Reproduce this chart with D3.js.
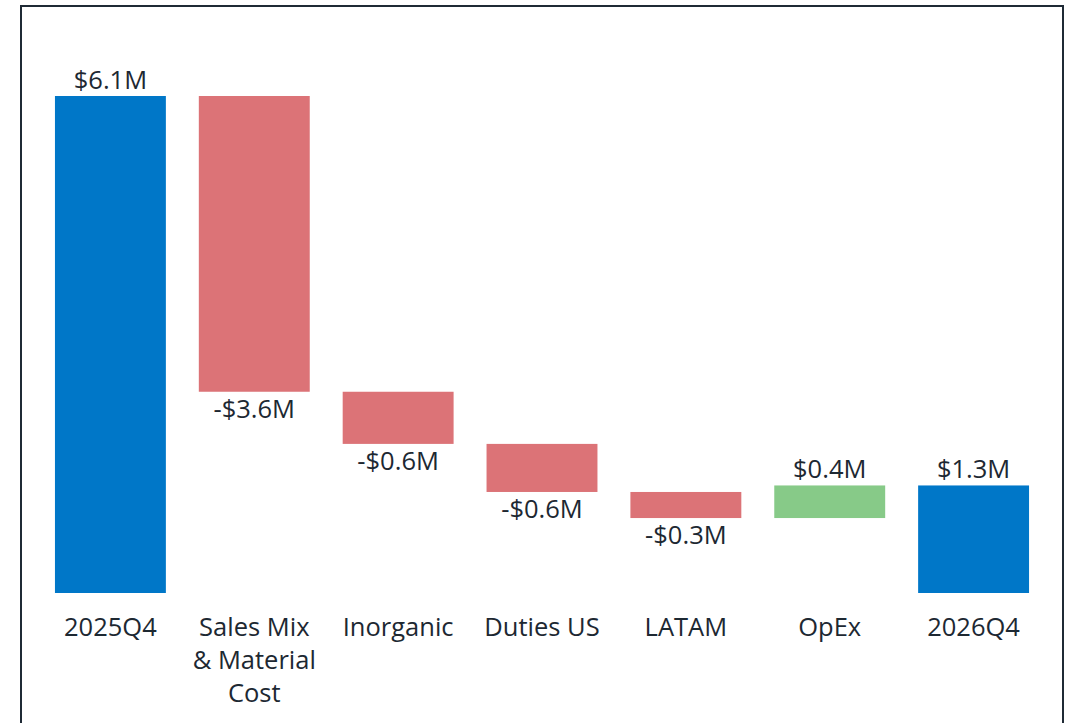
<!DOCTYPE html>
<html>
<head>
<meta charset="utf-8">
<script src="https://cdn.jsdelivr.net/npm/d3@7"></script>
<style>
  html, body { margin: 0; padding: 0; background: #ffffff; }
  svg { display: block; }
  text { font-family: "Open Sans", "Noto Sans", sans-serif; fill: #1d2832; }
</style>
</head>
<body>
<svg id="chart" width="1074" height="723"></svg>
<script>
// ---- Data ----
const categories = ["2025Q4", "Sales Mix\n& Material\nCost", "Inorganic", "Duties US", "LATAM", "OpEx", "2026Q4"];
const kinds = ["total", "delta", "delta", "delta", "delta", "delta", "total"];
const values = [6.1, -3.63, -0.64, -0.59, -0.32, 0.40, 1.32];
const valueLabels = ["$6.1M", "-$3.6M", "-$0.6M", "-$0.6M", "-$0.3M", "$0.4M", "$1.3M"];

// ---- Layout ----
const W = 1074, H = 723;
const svg = d3.select("#chart");
const colors = { total: "#0077C8", neg: "#DC7377", pos: "#87CA88" };

// compute waterfall segments
let running = 0;
const bars = categories.map((c, i) => {
  let y0, y1, color;
  if (kinds[i] === "total") {
    y0 = 0; y1 = values[i]; running = values[i]; color = colors.total;
  } else {
    y0 = running; y1 = running + values[i]; running = y1;
    color = values[i] < 0 ? colors.neg : colors.pos;
  }
  return { cat: c, i, lo: Math.min(y0, y1), hi: Math.max(y0, y1), v: values[i], label: valueLabels[i], color, kind: kinds[i] };
});

const x = d3.scaleBand().domain(d3.range(categories.length))
  .range([21, 1063]).paddingInner(0.229).paddingOuter(0.236);
const y = d3.scaleLinear().domain([0, 6.1]).range([593, 96]);

// frame
svg.append("rect")
  .attr("x", 21).attr("y", 6)
  .attr("width", 1042).attr("height", 740)
  .attr("fill", "none").attr("stroke", "#1f2a35").attr("stroke-width", 2);

// bars
svg.selectAll("rect.bar").data(bars).enter().append("rect")
  .attr("class", "bar")
  .attr("x", d => x(d.i))
  .attr("width", x.bandwidth())
  .attr("y", d => y(d.hi))
  .attr("height", d => y(d.lo) - y(d.hi))
  .attr("fill", d => d.color);

// value labels
svg.selectAll("text.val").data(bars).enter().append("text")
  .attr("class", "val")
  .attr("x", d => x(d.i) + x.bandwidth() / 2)
  .attr("y", d => d.v >= 0 ? y(d.hi) - 7 : y(d.lo) + 26)
  .attr("text-anchor", "middle")
  .style("font-size", "25.5px")
  .text(d => d.label);

// category labels
const catG = svg.selectAll("text.cat").data(bars).enter().append("text")
  .attr("class", "cat")
  .attr("text-anchor", "middle")
  .style("font-size", "25.5px")
  .attr("transform", d => `translate(${x(d.i) + x.bandwidth() / 2},${y(0) + 43})`);
catG.each(function(d) {
  const lines = d.cat.split("\n");
  d3.select(this).selectAll("tspan").data(lines).enter().append("tspan")
    .attr("x", 0).attr("y", (l, k) => k * 33)
    .text(l => l);
});
</script>
</body>
</html>
